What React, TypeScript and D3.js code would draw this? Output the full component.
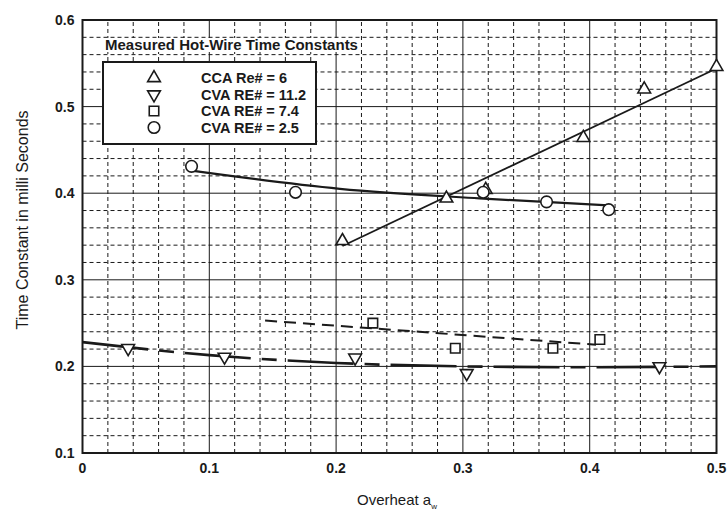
import { useEffect, useRef } from 'react';
import * as d3 from 'd3';

// measured points
const ccaX = [0.205, 0.287, 0.318, 0.395, 0.443, 0.5];
const ccaY = [0.345, 0.394, 0.404, 0.464, 0.52, 0.546];
const cva112X = [0.036, 0.112, 0.215, 0.303, 0.455];
const cva112Y = [0.221, 0.211, 0.21, 0.192, 0.2];
const cva74X = [0.229, 0.294, 0.371, 0.408];
const cva74Y = [0.25, 0.221, 0.221, 0.231];
const cva25X = [0.086, 0.168, 0.316, 0.366, 0.415];
const cva25Y = [0.431, 0.401, 0.401, 0.39, 0.381];

// fitted curves
const ccaFitX = [0.205, 0.5];
const ccaFitY = [0.339, 0.544];
const cva112FitX = [0, 0.1, 0.2, 0.3, 0.4, 0.5];
const cva112FitY = [0.228, 0.213, 0.204, 0.2, 0.199, 0.2];
const cva74FitX = [0.144, 0.405];
const cva74FitY = [0.253, 0.225];
const cva25FitX = [0.086, 0.203, 0.313, 0.415];
const cva25FitY = [0.426, 0.405, 0.394, 0.386];

const xTicks = [0, 0.1, 0.2, 0.3, 0.4, 0.5];
const yTicks = [0.1, 0.2, 0.3, 0.4, 0.5, 0.6];
const legendLabels = ['CCA Re# = 6', 'CVA RE# = 11.2', 'CVA RE# = 7.4', 'CVA RE# = 2.5'];

const ink = '#1a1a1a';
const font = 'Liberation Sans, Arial, Helvetica, sans-serif';

const App = () => {
    const ref = useRef<SVGSVGElement | null>(null);

    useEffect(() => {
        const svg = d3.select(ref.current);
        svg.selectAll('*').remove();

        const x = d3.scaleLinear().domain([0, 0.5]).range([82.5, 716.5]);
        const y = d3.scaleLinear().domain([0.1, 0.6]).range([453, 20]);
        const [x0, x1] = x.range();
        const [y0, y1] = y.range();

        const g = svg.append('g');

        // minor grid (dashed)
        const minor = d3.range(0, 26).map(i => i * 0.02);
        g.selectAll('line.vmin')
            .data(minor.filter((_, i) => i % 5 !== 0))
            .join('line')
            .attr('x1', d => x(d)).attr('x2', d => x(d))
            .attr('y1', y0).attr('y2', y1)
            .attr('stroke', ink).attr('stroke-width', 1)
            .attr('stroke-dasharray', '4,3');
        const minorY = d3.range(0, 26).map(i => 0.1 + i * 0.02);
        g.selectAll('line.hmin')
            .data(minorY.filter((_, i) => i % 5 !== 0))
            .join('line')
            .attr('x1', x0).attr('x2', x1)
            .attr('y1', d => y(d)).attr('y2', d => y(d))
            .attr('stroke', ink).attr('stroke-width', 1)
            .attr('stroke-dasharray', '4,3');

        // major grid
        g.selectAll('line.vmaj')
            .data(xTicks)
            .join('line')
            .attr('x1', d => x(d)).attr('x2', d => x(d))
            .attr('y1', y0).attr('y2', y1)
            .attr('stroke', ink).attr('stroke-width', 1);
        g.selectAll('line.hmaj')
            .data(yTicks)
            .join('line')
            .attr('x1', x0).attr('x2', x1)
            .attr('y1', d => y(d)).attr('y2', d => y(d))
            .attr('stroke', ink).attr('stroke-width', 1);

        // frame
        g.append('rect')
            .attr('x', x0).attr('y', y1)
            .attr('width', x1 - x0).attr('height', y0 - y1)
            .attr('fill', 'none').attr('stroke', ink).attr('stroke-width', 2);

        // tick labels
        g.selectAll('text.xt')
            .data(xTicks)
            .join('text')
            .attr('x', d => x(d)).attr('y', y0 + 20)
            .attr('text-anchor', 'middle')
            .attr('font-family', font).attr('font-size', 14).attr('font-weight', 'bold')
            .attr('fill', ink)
            .text(d => (d === 0 ? '0' : d.toFixed(1)));
        g.selectAll('text.yt')
            .data(yTicks)
            .join('text')
            .attr('x', x0 - 8).attr('y', d => y(d) + 5)
            .attr('text-anchor', 'end')
            .attr('font-family', font).attr('font-size', 14).attr('font-weight', 'bold')
            .attr('fill', ink)
            .text(d => d.toFixed(1));

        // axis titles
        g.append('text')
            .attr('transform', 'translate(28,220) rotate(-90)')
            .attr('text-anchor', 'middle')
            .attr('font-family', font).attr('font-size', 16)
            .attr('fill', ink)
            .text('Time Constant in milli Seconds');
        const xt = g.append('text')
            .attr('x', 397).attr('y', 505)
            .attr('text-anchor', 'middle')
            .attr('font-family', font).attr('font-size', 15)
            .attr('fill', ink);
        xt.append('tspan').text('Overheat a');
        xt.append('tspan').attr('dy', 4).attr('font-size', 8).text('w');

        const line = d3.line<[number, number]>()
            .x(d => x(d[0]))
            .y(d => y(d[1]));
        const zip = (a: number[], b: number[]) => a.map((v, i) => [v, b[i]] as [number, number]);

        // fit lines
        g.append('path')
            .attr('d', line(zip(ccaFitX, ccaFitY)))
            .attr('fill', 'none').attr('stroke', ink).attr('stroke-width', 1.8);
        g.append('path')
            .attr('d', line.curve(d3.curveMonotoneX)(zip(cva25FitX, cva25FitY)))
            .attr('fill', 'none').attr('stroke', ink).attr('stroke-width', 2.2);
        g.append('path')
            .attr('d', line.curve(d3.curveMonotoneX)(zip(cva112FitX, cva112FitY)))
            .attr('fill', 'none').attr('stroke', ink).attr('stroke-width', 2.6)
            .attr('stroke-dasharray', '66,11,15,11');
        g.append('path')
            .attr('d', line.curve(d3.curveLinear)(zip(cva74FitX, cva74FitY)))
            .attr('fill', 'none').attr('stroke', ink).attr('stroke-width', 2)
            .attr('stroke-dasharray', '12,7');

        // markers
        const sym = {
            up: d3.symbol(d3.symbolTriangle, 70)(),
            down: d3.symbol(d3.symbolTriangle, 70)(),
            square: d3.symbol(d3.symbolSquare, 90)(),
            circle: d3.symbol(d3.symbolCircle, 105)(),
        };
        const drawMarkers = (xs: number[], ys: number[], path: string | null, rot: number) => {
            g.append('g').selectAll('path')
                .data(zip(xs, ys))
                .join('path')
                .attr('d', path)
                .attr('transform', d => `translate(${x(d[0])},${y(d[1])}) rotate(${rot})`)
                .attr('fill', 'white').attr('stroke', ink).attr('stroke-width', 1.6);
        };
        drawMarkers(ccaX, ccaY, sym.up, 0);
        drawMarkers(cva112X, cva112Y, sym.down, 180);
        drawMarkers(cva74X, cva74Y, sym.square, 0);
        drawMarkers(cva25X, cva25Y, sym.circle, 0);

        // legend title
        const title = g.append('text')
            .attr('x', 105).attr('y', 50)
            .attr('font-family', font).attr('font-size', 15).attr('font-weight', 'bold')
            .attr('fill', ink)
            .text('Measured Hot-Wire Time Constants');
        const tb = (title.node() as SVGTextElement).getBBox();
        g.insert('rect', () => title.node())
            .attr('x', tb.x - 2).attr('y', tb.y + 2)
            .attr('width', tb.width + 4).attr('height', tb.height - 3)
            .attr('fill', 'white');

        // legend box
        g.append('rect')
            .attr('x', 103).attr('y', 62)
            .attr('width', 213).attr('height', 82)
            .attr('fill', 'white').attr('stroke', ink).attr('stroke-width', 2);
        const legendSyms = [sym.up, sym.down, sym.square, sym.circle];
        const legendRot = [0, 180, 0, 0];
        const rows = g.append('g').selectAll('g')
            .data(legendLabels)
            .join('g')
            .attr('transform', (_, i) => `translate(0,${78 + i * 16.5})`);
        rows.append('path')
            .attr('d', (_, i) => legendSyms[i])
            .attr('transform', (_, i) => `translate(154,0) rotate(${legendRot[i]})`)
            .attr('fill', 'white').attr('stroke', ink).attr('stroke-width', 1.6);
        rows.append('text')
            .attr('x', 201).attr('y', 5)
            .attr('font-family', font).attr('font-size', 14.5).attr('font-weight', 'bold')
            .attr('fill', ink)
            .text(d => d);
    }, []);

    return (
        <svg
            ref={ref}
            width={727}
            height={517}
            style={{ position: 'absolute', left: 0, top: 0, background: 'white' }}
        ></svg>
    );
};

export default App;
